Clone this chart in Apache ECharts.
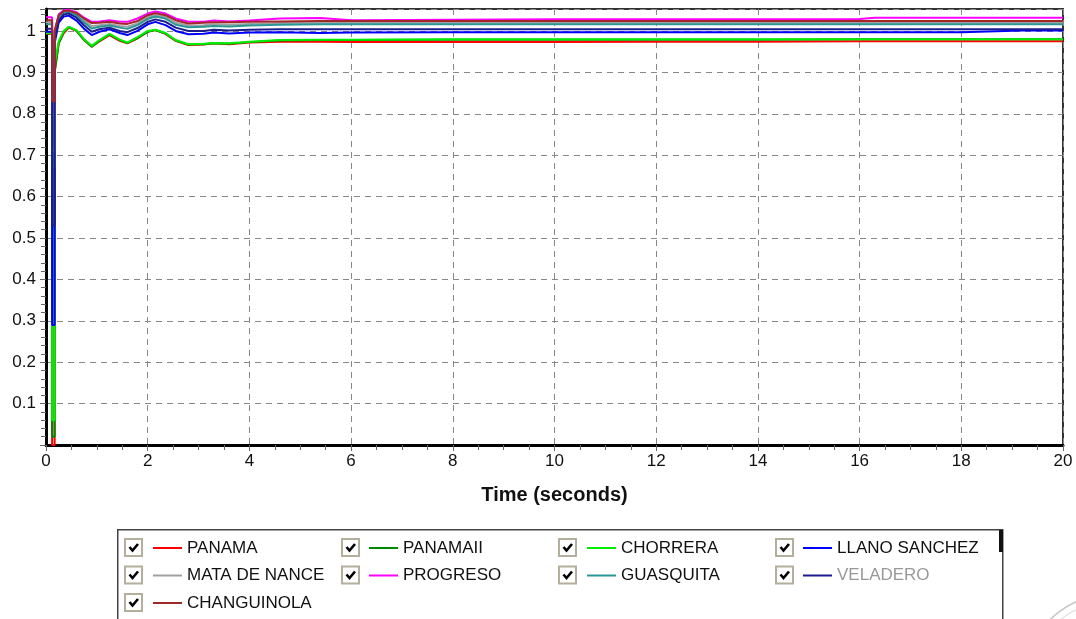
<!DOCTYPE html>
<html>
<head>
<meta charset="utf-8">
<script src="https://cdn.jsdelivr.net/npm/echarts@6/dist/echarts.min.js"></script>
<style>
html,body{margin:0;padding:0;background:#fff;}
#c{width:1076px;height:619px;}
</style>
</head>
<body>
<div id="c"></div>
<script>
// time points (seconds)
const T = [0, 0.12, 0.12, 0.17, 0.17, 0.25, 0.35, 0.45, 0.6, 0.75, 0.9, 1.05, 1.25, 1.45, 1.6, 1.8, 2.0, 2.15, 2.35, 2.55, 2.8, 3.1, 3.3, 3.6, 4.0, 4.6, 5.4, 6, 8, 10, 12, 14, 16, 16.3, 18, 19.2, 20];

const PANAMA = [0.993,0.993,0,0,0.90,0.97,0.995,1.008,1.0,0.978,0.962,0.975,0.99,0.976,0.970,0.982,0.998,1.002,0.993,0.976,0.966,0.967,0.970,0.968,0.972,0.974,0.974,0.973,0.973,0.973,0.974,0.974,0.975,0.975,0.975,0.975,0.975];
const PANAMAII = [0.994,0.994,0.02,0.02,0.90,0.97,0.998,1.010,1.0,0.978,0.962,0.976,0.992,0.978,0.971,0.983,0.998,1.002,0.994,0.977,0.967,0.968,0.970,0.969,0.973,0.977,0.978,0.978,0.979,0.979,0.979,0.979,0.980,0.980,0.980,0.980,0.980];
const CHORRERA = [0.995,0.995,0.06,0.06,0.92,0.975,1.0,1.010,1.002,0.98,0.964,0.978,0.993,0.979,0.972,0.985,1.0,1.003,0.995,0.978,0.968,0.969,0.971,0.970,0.974,0.978,0.979,0.979,0.980,0.980,0.980,0.980,0.980,0.980,0.980,0.980,0.980];
const LLANO_SANCHEZ = [0.998,0.998,0.29,0.29,0.97,1.02,1.035,1.037,1.025,1.005,0.990,0.998,1.004,0.995,0.990,1.0,1.016,1.022,1.014,1.0,0.992,0.993,0.996,0.994,0.996,0.997,0.995,0.996,0.997,0.997,0.997,0.997,0.997,0.997,0.997,1.001,1.001];
const MATA_DE_NANCE = [1.021,1.021,0.71,0.71,0.99,1.035,1.046,1.048,1.04,1.025,1.012,1.014,1.017,1.012,1.01,1.018,1.033,1.039,1.034,1.02,1.013,1.014,1.016,1.015,1.017,1.019,1.02,1.02,1.02,1.02,1.02,1.02,1.02,1.02,1.02,1.02,1.02];
const PROGRESO = [1.033,1.033,0.81,0.81,1.0,1.04,1.05,1.051,1.045,1.032,1.022,1.023,1.026,1.022,1.022,1.03,1.042,1.047,1.042,1.03,1.022,1.022,1.025,1.023,1.025,1.03,1.031,1.026,1.027,1.028,1.028,1.028,1.029,1.032,1.032,1.032,1.032];
const GUASQUITA = [1.016,1.016,0.67,0.67,0.99,1.03,1.045,1.046,1.038,1.02,1.006,1.01,1.013,1.008,1.005,1.014,1.029,1.035,1.03,1.015,1.009,1.01,1.012,1.011,1.013,1.015,1.016,1.016,1.016,1.016,1.016,1.016,1.016,1.016,1.016,1.016,1.016];
const VELADERO = [1.005,1.005,0.53,0.53,0.98,1.025,1.04,1.042,1.032,1.013,0.998,1.004,1.008,1.0,0.997,1.007,1.022,1.028,1.022,1.008,1.0,1.0,1.003,1.001,1.003,1.004,1.004,1.004,1.004,1.004,1.004,1.004,1.004,1.004,1.004,1.004,1.004];
const CHANGUINOLA = [1.026,1.026,0.83,0.83,1.0,1.038,1.048,1.049,1.043,1.03,1.019,1.02,1.022,1.018,1.017,1.024,1.038,1.043,1.038,1.026,1.018,1.02,1.021,1.021,1.022,1.023,1.024,1.024,1.024,1.024,1.024,1.024,1.024,1.024,1.024,1.024,1.024];

const NAMES = ['PANAMA','PANAMAII','CHORRERA','LLANO SANCHEZ','MATA DE NANCE','PROGRESO','GUASQUITA','VELADERO','CHANGUINOLA'];
const VALUES = [PANAMA, PANAMAII, CHORRERA, LLANO_SANCHEZ, MATA_DE_NANCE, PROGRESO, GUASQUITA, VELADERO, CHANGUINOLA];
const COLORS = ['#ff0000','#008a00','#00ee00','#0000ff','#a0a0a0','#ff00ff','#2a9696','#1c1c8c','#a02828'];

const X_TICKS = [0,2,4,6,8,10,12,14,16,18,20];

const FONT = '"Liberation Sans", Arial, sans-serif';

const chart = echarts.init(document.getElementById('c'), null, {renderer:'canvas'});

const series = NAMES.map((n, i) => ({
  name: n,
  type: 'line',
  showSymbol: false,
  symbol: 'none',
  color: COLORS[i],
  lineStyle: {width: 2, color: COLORS[i]},
  data: T.map((t, k) => [t, VALUES[i][k]]),
  animation: false
}));

const legendCols = [
  {left: 153, items: ['PANAMA','MATA DE NANCE','CHANGUINOLA']},
  {left: 369, items: ['PANAMAII','PROGRESO']},
  {left: 587, items: ['CHORRERA','GUASQUITA']},
  {left: 803, items: ['LLANO SANCHEZ','VELADERO']}
];

const legends = legendCols.map(c => ({
  orient: 'vertical',
  left: c.left,
  top: 538,
  height: 90,
  padding: 0,
  itemWidth: 29,
  itemHeight: 2,
  itemGap: 7.5,
  icon: 'rect',
  selectedMode: false,
  textStyle: {fontFamily: FONT, fontSize: 17, color: '#111', lineHeight: 20},
  data: c.items.map(n => n === 'VELADERO'
      ? {name: n, textStyle: {color: '#999'}}
      : {name: n})
}));

// decorative checkboxes
const cbCols = [125, 342, 559, 776];
const cbRows = [539, 566.5, 594];
const cbPos = [[0,0],[0,1],[0,2],[1,0],[1,1],[2,0],[2,1],[3,0],[3,1]];
const graphics = [];
graphics.push({
  type: 'rect', left: 117, top: 529, silent: true,
  shape: {width: 885, height: 100},
  style: {fill: '#fff', stroke: '#444', lineWidth: 1.5}, z: -1
});
graphics.push({
  type: 'rect', left: 999, top: 530, silent: true,
  shape: {width: 4, height: 22},
  style: {fill: '#111'}
});
cbPos.forEach(([c, r]) => {
  const x = cbCols[c], y = cbRows[r];
  graphics.push({
    type: 'group', silent: true,
    children: [
      {type: 'rect', shape: {x: x, y: y, width: 17, height: 17}, style: {fill: '#fff', stroke: '#b4ae9c', lineWidth: 2}},
      {type: 'polyline', shape: {points: [[x+4.5, y+8], [x+7.5, y+11.5], [x+13, y+5]]}, style: {stroke: '#000', lineWidth: 2.6, fill: null}}
    ]
  });
});
// faint stamp fragment at bottom right
graphics.push({
  type: 'arc', silent: true,
  shape: {cx: 1110, cy: 680, r: 85, startAngle: Math.PI*1.05, endAngle: Math.PI*1.5},
  style: {stroke: '#c8c8c8', lineWidth: 1.5, fill: null}
});
graphics.push({
  type: 'arc', silent: true,
  shape: {cx: 1110, cy: 680, r: 78, startAngle: Math.PI*1.05, endAngle: Math.PI*1.5},
  style: {stroke: '#d6d6d6', lineWidth: 1, fill: null}
});

const option = {
  backgroundColor: '#fff',
  animation: false,
  grid: {
    left: 46, right: 13, top: 9, bottom: 174,
    show: true, borderColor: '#333', borderWidth: 2, backgroundColor: '#fff'
  },
  legend: legends,
  xAxis: {
    type: 'value',
    min: 0, max: 20, interval: 2,
    name: 'Time (seconds)',
    nameLocation: 'middle',
    nameGap: 40,
    nameTextStyle: {fontFamily: FONT, fontSize: 20, fontWeight: 'bold', color: '#111'},
    axisLine: {show: true, onZero: false, lineStyle: {color: '#000', width: 3}},
    axisTick: {show: true, length: 6, lineStyle: {color: '#666', width: 1}},
    minorTick: {show: true, splitNumber: 4, length: 5, lineStyle: {color: '#666', width: 1}},
    axisLabel: {fontFamily: FONT, fontSize: 17, color: '#111', margin: 8,
      formatter: v => X_TICKS.indexOf(v) >= 0 ? String(v) : ''},
    splitLine: {show: true, lineStyle: {color: '#888', type: [6, 5], width: 1}}
  },
  yAxis: {
    type: 'value',
    min: 0, max: 1.053, interval: 0.1,
    axisLine: {show: true, onZero: false, lineStyle: {color: '#000', width: 3}},
    axisTick: {show: true, length: 6, lineStyle: {color: '#666', width: 1}},
    minorTick: {show: true, splitNumber: 5, length: 5, lineStyle: {color: '#666', width: 1}},
    axisLabel: {fontFamily: FONT, fontSize: 17, color: '#111', margin: 10, showMaxLabel: false,
      formatter: v => (v === 0 || v > 1.0001) ? '' : String(Math.round(v * 10) / 10)},
    splitLine: {show: true, lineStyle: {color: '#888', type: [6, 5], width: 1}}
  },
  graphic: graphics,
  series: series
};
chart.setOption(option);
</script>
</body>
</html>
